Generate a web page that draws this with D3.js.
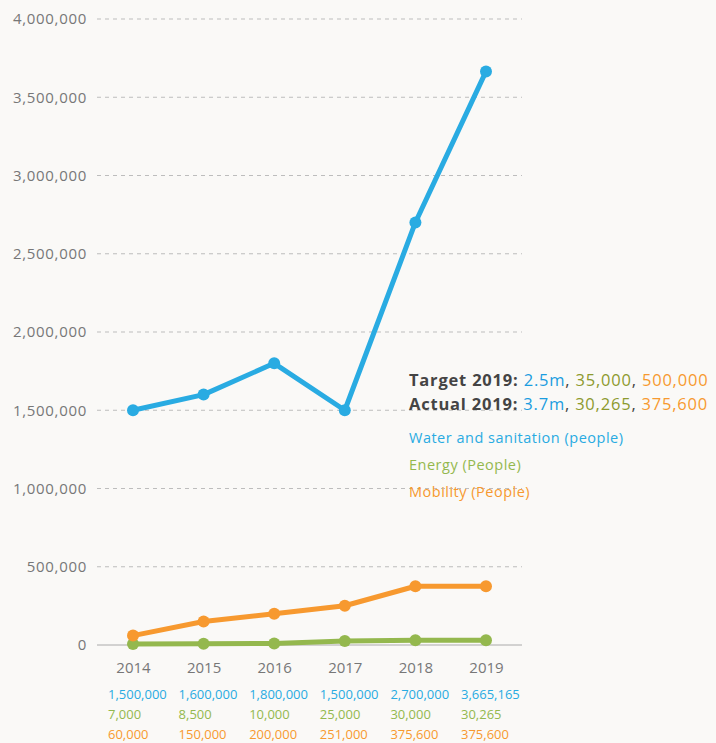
<!DOCTYPE html>
<head>
  <meta charset="utf-8" />
  <script src="https://d3js.org/d3.v7.min.js"></script>
  <style>
    body {
      margin: 0;
      background: #faf9f7;
      font-family: "Open Sans", "Lato", sans-serif;
    }
    .grid line { stroke: #bdbdbd; stroke-dasharray: 4 4; }
    .tick text { fill: #777; font-size: 15px; font-family: "Open Sans", sans-serif; }
    .yaxis .tick text { letter-spacing: 0.7px; }
  </style>
</head>

<body>
  <script>
    var width = 716,
      height = 743;

    // donnees
    var years = ["2014", "2015", "2016", "2017", "2018", "2019"];
    var water = [1500000, 1600000, 1800000, 1500000, 2700000, 3665165];
    var energy = [7000, 8500, 10000, 25000, 30000, 30265];
    var mobility = [60000, 150000, 200000, 251000, 375600, 375600];
    var yTicks = [0, 500000, 1000000, 1500000, 2000000, 2500000, 3000000, 3500000, 4000000];

    var colors = { water: "#29abe2", energy: "#94b84e", mobility: "#f7992f" };

    var svg = d3.select("body").append("svg")
      .attr("width", width)
      .attr("height", height);

    var x = d3.scalePoint().domain(years).range([133, 486]);
    var y = d3.scaleLinear().domain([0, 4000000]).range([645, 19]);
    var fmt = d3.format(",");

    // lignes de grille
    var grid = svg.append("g").attr("class", "grid");
    grid.selectAll("line")
      .data(yTicks.filter(d => d > 0))
      .join("line")
      .attr("x1", 97).attr("x2", 522)
      .attr("y1", d => y(d)).attr("y2", d => y(d));

    svg.append("line")
      .attr("x1", 97).attr("x2", 522)
      .attr("y1", y(0)).attr("y2", y(0))
      .attr("stroke", "#aaa").attr("stroke-width", 1);

    var yAxis = svg.append("g")
      .attr("class", "yaxis")
      .attr("transform", "translate(87,0)")
      .call(d3.axisLeft(y).tickValues(yTicks).tickFormat(fmt).tickSize(0).tickPadding(0));
    yAxis.select(".domain").remove();

    var xAxis = svg.append("g")
      .attr("transform", "translate(0," + (y(0) + 17) + ")")
      .call(d3.axisBottom(x).tickSize(0).tickPadding(0));
    xAxis.select(".domain").remove();
    xAxis.selectAll("text").attr("dy", "0.71em");

    var line = d3.line().x((d, i) => x(years[i])).y(d => y(d));

    var series = [
      { key: "energy", values: energy },
      { key: "mobility", values: mobility },
      { key: "water", values: water }
    ];

    series.forEach(function (s) {
      svg.append("path")
        .datum(s.values)
        .attr("fill", "none")
        .attr("stroke", colors[s.key])
        .attr("stroke-width", 5)
        .attr("stroke-linejoin", "round")
        .attr("d", line);
      svg.selectAll(".dot-" + s.key)
        .data(s.values)
        .join("circle")
        .attr("class", "dot-" + s.key)
        .attr("cx", (d, i) => x(years[i]))
        .attr("cy", d => y(d))
        .attr("r", 6)
        .attr("fill", colors[s.key]);
    });

    // legende
    var leg = svg.append("g").attr("font-size", 16.5).attr("letter-spacing", 0.8);
    var rows = [
      { label: "Target 2019: ", vals: ["2.5m", "35,000", "500,000"] },
      { label: "Actual 2019: ", vals: ["3.7m", "30,265", "375,600"] }
    ];
    var valColors = ["#1b9de0", "#8d9a2e", "#f7992f"];
    rows.forEach(function (r, k) {
      var t = leg.append("text").attr("x", 409).attr("y", 386 + k * 24);
      t.append("tspan").text(r.label).attr("font-weight", "bold").attr("fill", "#444");
      r.vals.forEach(function (v, j) {
        t.append("tspan").text(v).attr("fill", valColors[j]);
        if (j < 2) t.append("tspan").text(", ").attr("fill", "#444");
      });
    });

    var legItems = [
      { text: "Water and sanitation (people)", c: colors.water },
      { text: "Energy (People)", c: colors.energy },
      { text: "Mobility (People)", c: colors.mobility }
    ];
    svg.selectAll(".legitem")
      .data(legItems)
      .join("text")
      .attr("x", 409)
      .attr("y", (d, i) => 443 + i * 27)
      .attr("font-size", 14.5)
      .attr("letter-spacing", 0.5)
      .attr("fill", d => d.c)
      .text(d => d.text);

    // tableau des valeurs
    var table = [
      { values: water, c: colors.water },
      { values: energy, c: colors.energy },
      { values: mobility, c: colors.mobility }
    ];
    table.forEach(function (r, k) {
      svg.selectAll(".tab" + k)
        .data(r.values)
        .join("text")
        .attr("class", "tab" + k)
        .attr("x", (d, i) => x(years[i]) - 25)
        .attr("y", 699 + k * 20)
        .attr("font-size", 13)
        .attr("fill", r.c)
        .text(d => fmt(d));
    });
  </script>
</body>
